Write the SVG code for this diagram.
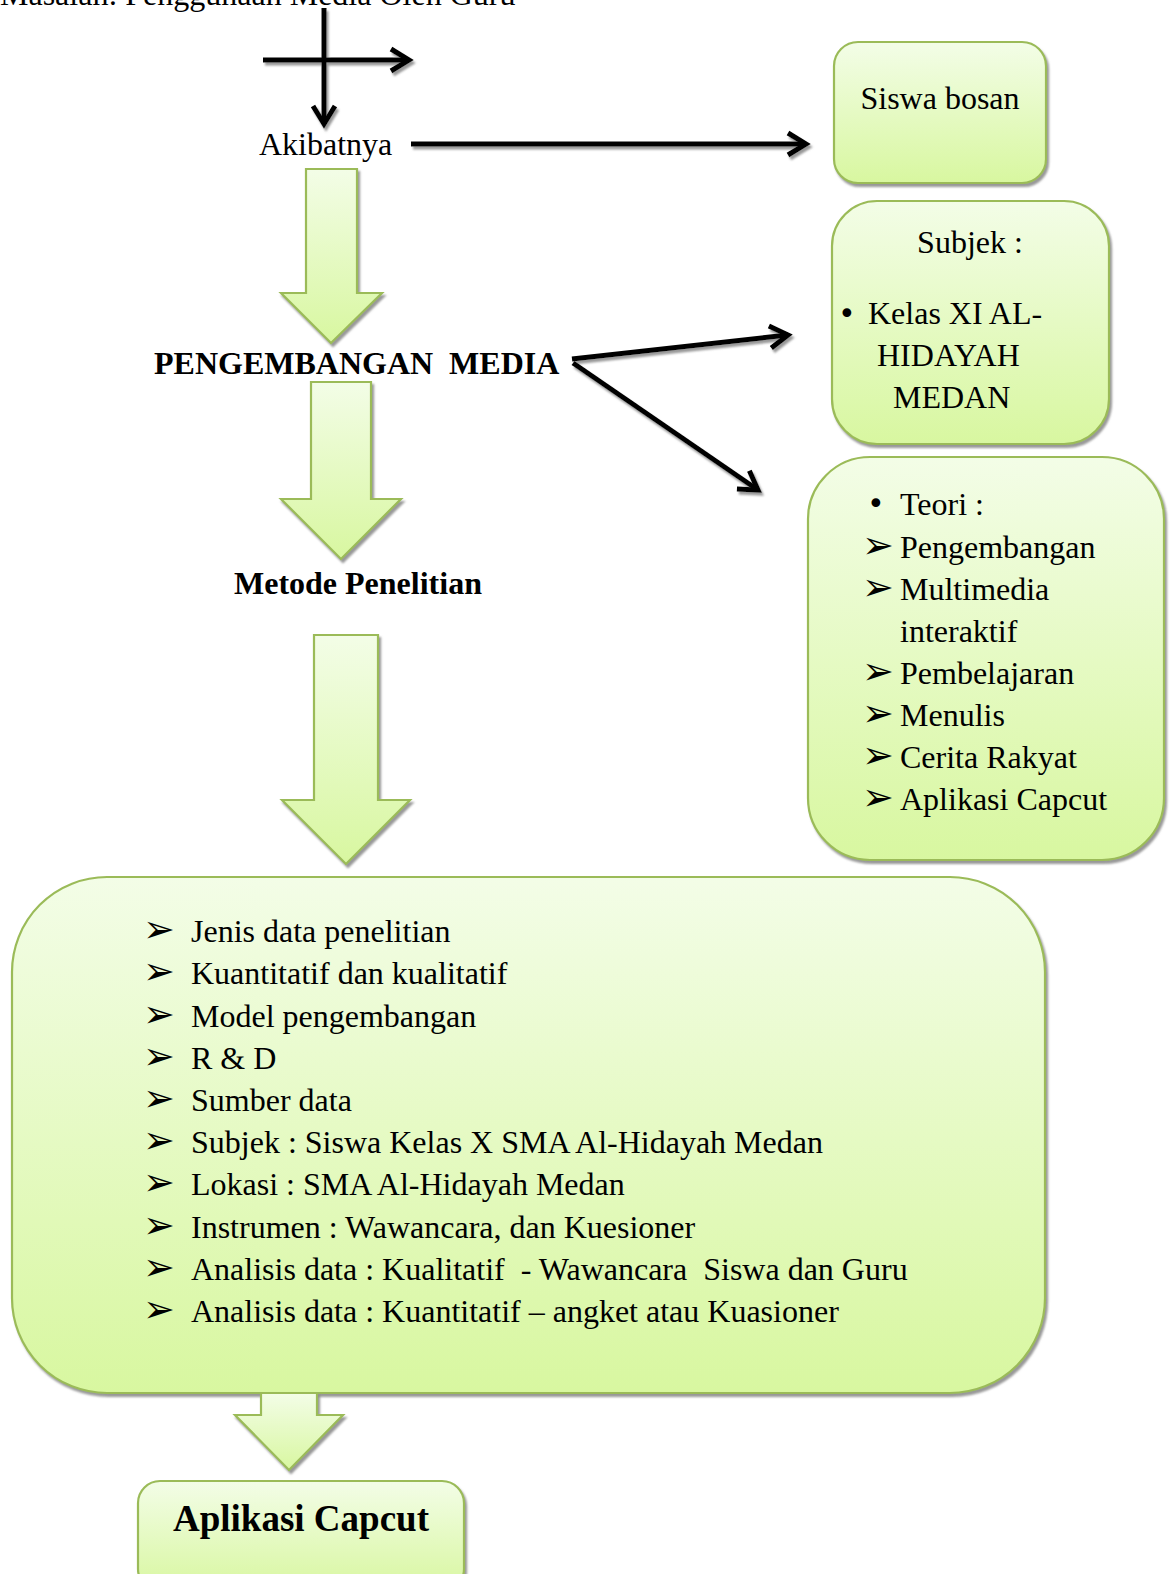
<svg xmlns="http://www.w3.org/2000/svg" width="1172" height="1574" viewBox="0 0 1172 1574">
<style>
.t{font-family:"Liberation Serif","Times New Roman",serif;font-size:32px;fill:#000}
.b{font-weight:bold}
.ar{font-family:"DejaVu Sans",sans-serif;font-size:38px;fill:#000}
.bu{font-family:"DejaVu Sans",sans-serif;font-size:30px;fill:#000}
.box{fill:url(#g);stroke:#9bbb59;stroke-width:2.2;filter:url(#sh)}
.ln{stroke:#000;stroke-width:5;fill:none;marker-end:url(#m)}
</style>
<defs>
<linearGradient id="g" x1="0" y1="0" x2="0" y2="1">
<stop offset="0" stop-color="#f3fde7"/>
<stop offset="1" stop-color="#d8f7a0"/>
</linearGradient>
<filter id="sh" x="-10%" y="-10%" width="120%" height="120%">
<feDropShadow dx="2" dy="3" stdDeviation="0.8" flood-color="#7f7f7f" flood-opacity="0.8"/>
</filter>
<marker id="m" markerUnits="userSpaceOnUse" markerWidth="40" markerHeight="40" viewBox="-25 -20 30 40" refX="0" refY="0" orient="auto">
<path d="M -18 -11 L 0 0 L -18 11" stroke="#000" stroke-width="5" fill="none"/>
</marker>
</defs>
<rect width="1172" height="1574" fill="#fff"/>

<g id="masalah"><text class="t" x="0" y="5">Masalah: Penggunaan Media Oleh Guru</text></g>
<g id="akibatnya"><text class="t" x="259" y="155">Akibatnya</text></g>
<g id="pengembangan"><text class="t b" x="154" y="374" style="white-space:pre">PENGEMBANGAN  MEDIA</text></g>
<g id="metode"><text class="t b" x="234" y="594">Metode Penelitian</text></g>

<g id="siswa-bosan">
<rect class="box" x="834" y="42" width="212" height="141" rx="24"/>
<text class="t" x="940" y="109" text-anchor="middle">Siswa bosan</text>
</g>

<g id="subjek">
<rect class="box" x="832" y="201" width="277" height="243" rx="45"/>
<text class="t" x="970" y="253" text-anchor="middle">Subjek :</text>
<text class="bu" x="838" y="324">•</text>
<text class="t" x="868" y="324">Kelas XI AL-</text>
<text class="t" x="877" y="366">HIDAYAH</text>
<text class="t" x="893" y="408">MEDAN</text>
</g>

<g id="teori">
<rect class="box" x="808" y="457" width="356" height="403" rx="62"/>
<text class="bu" x="867" y="514">•</text>
<text class="t" x="900" y="515">Teori :</text>
<text class="ar" x="862" y="558">➢</text><text class="t" x="900" y="558">Pengembangan</text>
<text class="ar" x="862" y="600">➢</text><text class="t" x="900" y="600">Multimedia</text>
<text class="t" x="900" y="642">interaktif</text>
<text class="ar" x="862" y="684">➢</text><text class="t" x="900" y="684">Pembelajaran</text>
<text class="ar" x="862" y="726">➢</text><text class="t" x="900" y="726">Menulis</text>
<text class="ar" x="862" y="768">➢</text><text class="t" x="900" y="768">Cerita Rakyat</text>
<text class="ar" x="862" y="810">➢</text><text class="t" x="900" y="810">Aplikasi Capcut</text>
</g>

<g id="metode-box">
<rect class="box" x="12" y="877" width="1033" height="516" rx="95"/>
<text class="ar" x="143" y="942">➢</text><text class="t" x="191" y="942">Jenis data penelitian</text>
<text class="ar" x="143" y="984">➢</text><text class="t" x="191" y="984">Kuantitatif dan kualitatif</text>
<text class="ar" x="143" y="1027">➢</text><text class="t" x="191" y="1027">Model pengembangan</text>
<text class="ar" x="143" y="1069">➢</text><text class="t" x="191" y="1069">R &amp; D</text>
<text class="ar" x="143" y="1111">➢</text><text class="t" x="191" y="1111">Sumber data</text>
<text class="ar" x="143" y="1153">➢</text><text class="t" x="191" y="1153">Subjek : Siswa Kelas X SMA Al-Hidayah Medan</text>
<text class="ar" x="143" y="1195">➢</text><text class="t" x="191" y="1195">Lokasi : SMA Al-Hidayah Medan</text>
<text class="ar" x="143" y="1238">➢</text><text class="t" x="191" y="1238">Instrumen : Wawancara, dan Kuesioner</text>
<text class="ar" x="143" y="1280">➢</text><text class="t" x="191" y="1280" style="white-space:pre">Analisis data : Kualitatif  - Wawancara  Siswa dan Guru</text>
<text class="ar" x="143" y="1322">➢</text><text class="t" x="191" y="1322">Analisis data : Kuantitatif – angket atau Kuasioner</text>
</g>

<g id="aplikasi-capcut">
<rect class="box" x="138" y="1481" width="326" height="110" rx="22"/>
<text class="t b" x="301" y="1531" text-anchor="middle" style="font-size:37px">Aplikasi Capcut</text>
</g>

<g id="block-arrows">
<path class="box" d="M306 169 H357 V293 H382 L331 343 L281 293 H306 Z"/>
<path class="box" d="M311 382 H371 V499 H401 L341 559 L281 499 H311 Z"/>
<path class="box" d="M314 635 H378 V800 H410 L346 864 L282 800 H314 Z"/>
<path class="box" d="M261 1393 H317 V1415 H343 L289 1470 L235 1415 H261 Z"/>
</g>

<g id="connectors" filter="url(#sh)">
<line class="ln" x1="263" y1="60" x2="409" y2="60"/>
<line class="ln" x1="324" y1="8" x2="324" y2="124"/>
<line class="ln" x1="411" y1="144" x2="806" y2="144"/>
<line class="ln" x1="572" y1="359" x2="788" y2="335"/>
<line class="ln" x1="573" y1="363" x2="758" y2="490"/>
</g>
</svg>
